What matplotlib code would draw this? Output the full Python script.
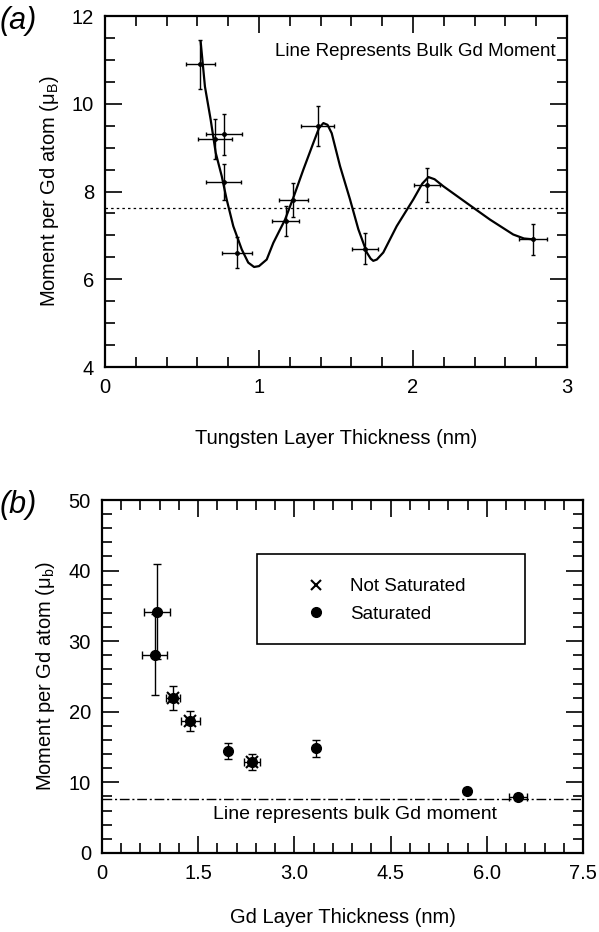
import matplotlib
matplotlib.use("Agg")
import matplotlib.pyplot as plt
from matplotlib.patches import Rectangle
from matplotlib.lines import Line2D
from matplotlib.ticker import MultipleLocator

plt.rcParams['font.family'] = ['Liberation Sans', 'DejaVu Sans']

# panel (a): moment vs tungsten thickness
w_x = [0.617, 0.714, 0.771, 0.771, 0.857, 1.173, 1.223, 1.381, 1.688, 2.089, 2.78]
w_y = [10.90, 9.20, 9.30, 8.21, 6.61, 7.33, 7.81, 9.50, 6.70, 8.14, 6.91]
w_xerr = [0.094, 0.108, 0.118, 0.115, 0.10, 0.089, 0.095, 0.106, 0.084, 0.084, 0.09]
w_yerr = [0.56, 0.46, 0.46, 0.41, 0.36, 0.34, 0.39, 0.46, 0.35, 0.39, 0.36]

# hand-drawn guide line
curve_x = [0.621, 0.649, 0.686, 0.719, 0.758, 0.790, 0.833, 0.888, 0.93, 0.968,
           1.0, 1.05, 1.093, 1.169, 1.223, 1.288, 1.353, 1.39, 1.418, 1.445,
           1.472, 1.526, 1.591, 1.645, 1.70, 1.725, 1.742, 1.765, 1.807, 1.894,
           2.002, 2.06, 2.10, 2.14, 2.197, 2.348, 2.5, 2.651, 2.72, 2.78]
curve_y = [11.42, 10.39, 9.64, 8.88, 8.35, 7.82, 7.21, 6.68, 6.38, 6.28,
           6.30, 6.45, 6.83, 7.36, 7.86, 8.50, 9.11, 9.45, 9.56, 9.52,
           9.33, 8.58, 7.82, 7.14, 6.61, 6.47, 6.42, 6.45, 6.61, 7.21,
           7.82, 8.18, 8.33, 8.28, 8.12, 7.74, 7.36, 7.02, 6.93, 6.91]
bulk_a = 7.63

# panel (b): moment vs Gd thickness
sat_x = [0.855, 0.82, 1.11, 1.375, 1.97, 2.34, 3.34, 5.69, 6.48]
sat_y = [34.2, 28.1, 21.9, 18.7, 14.45, 12.93, 14.83, 8.78, 7.97]
sat_xerr = [0.2, 0.195, 0.11, 0.15, 0.0, 0.13, 0.0, 0.0, 0.14]
sat_yerr = [6.7, 5.7, 1.7, 1.46, 1.13, 1.13, 1.2, 0.4, 0.4]
ns_x = [1.11, 1.375, 2.34]
ns_y = [21.9, 18.7, 12.93]
bulk_b = 7.7


def style_axes(ax):
    ax.tick_params(which='both', direction='in', top=True, right=True,
                   labelsize=14.5, width=1.2, pad=8)
    ax.tick_params(which='major', length=12)
    ax.tick_params(which='minor', length=7)
    for s in ax.spines.values():
        s.set_linewidth(1.6)


fig = plt.figure(figsize=(5.99, 9.32), dpi=100)

# ---------- (a) ----------
ax1 = fig.add_axes([0.1753, 0.6062, 0.7713, 0.3766])
ax1.errorbar(w_x, w_y, xerr=w_xerr, yerr=w_yerr, fmt='o', ms=2.5, color='black',
             elinewidth=1.0, capsize=1.5)
ax1.plot(curve_x, curve_y, color='black', lw=1.6, solid_joinstyle='round')
ax1.axhline(bulk_a, color='black', lw=0.9, ls=(0, (2, 2.5)))
ax1.set_xlim(0, 3)
ax1.set_ylim(4, 12)
ax1.xaxis.set_major_locator(MultipleLocator(1))
ax1.xaxis.set_minor_locator(MultipleLocator(0.2))
ax1.yaxis.set_major_locator(MultipleLocator(2))
ax1.yaxis.set_minor_locator(MultipleLocator(0.5))
style_axes(ax1)
ax1.text(0.975, 0.9, 'Line Represents Bulk Gd Moment', transform=ax1.transAxes,
         ha='right', va='center', fontsize=13.5)
ax1.set_xlabel('Tungsten Layer Thickness (nm)', fontsize=14.5, labelpad=23)
ax1.set_ylabel('Moment per Gd atom (μ$_\\mathregular{B}$)', fontsize=14.5, labelpad=8)
fig.text(0.0, 0.978, '(a)', fontsize=22, style='italic', ha='left', va='center')

# ---------- (b) ----------
ax2 = fig.add_axes([0.1703, 0.0848, 0.8030, 0.3787])
ax2.errorbar(sat_x, sat_y, xerr=sat_xerr, yerr=sat_yerr, fmt='o', ms=7,
             color='black', elinewidth=1.0, capsize=3)
ax2.plot(ns_x, ns_y, 'x', color='black', ms=8, mew=1.5)
ax2.axhline(bulk_b, color='black', lw=1.0, ls=(0, (7, 2, 1.5, 2)))
ax2.set_xlim(0, 7.5)
ax2.set_ylim(0, 50)
ax2.xaxis.set_major_locator(MultipleLocator(1.5))
ax2.xaxis.set_minor_locator(MultipleLocator(0.3))
ax2.yaxis.set_major_locator(MultipleLocator(10))
ax2.yaxis.set_minor_locator(MultipleLocator(2))
ax2.set_xticks([0, 1.5, 3.0, 4.5, 6.0, 7.5])
ax2.set_xticklabels(['0', '1.5', '3.0', '4.5', '6.0', '7.5'])
style_axes(ax2)
ax2.text(0.525, 0.11, 'Line represents bulk Gd moment', transform=ax2.transAxes,
         ha='center', va='center', fontsize=14)
ax2.set_xlabel('Gd Layer Thickness (nm)', fontsize=14.5, labelpad=18)
ax2.set_ylabel('Moment per Gd atom (μ$_\\mathregular{b}$)', fontsize=14.5, labelpad=8)
fig.text(0.0, 0.458, '(b)', fontsize=22, style='italic', ha='left', va='center')

# legend box
ax2.add_patch(Rectangle((0.322, 0.592), 0.557, 0.255, transform=ax2.transAxes,
                        fill=False, lw=1.2, color='black'))
handles = [Line2D([], [], ls='none', marker='x', color='black', ms=7, mew=1.5),
           Line2D([], [], ls='none', marker='o', color='black', ms=7)]
ax2.legend(handles, ['Not Saturated', 'Saturated'], loc='center left',
           bbox_to_anchor=(0.38, 0.715), frameon=False, fontsize=13.5,
           handletextpad=1.1, labelspacing=0.55, handlelength=1.5)

fig.savefig('out.png', dpi=100)
